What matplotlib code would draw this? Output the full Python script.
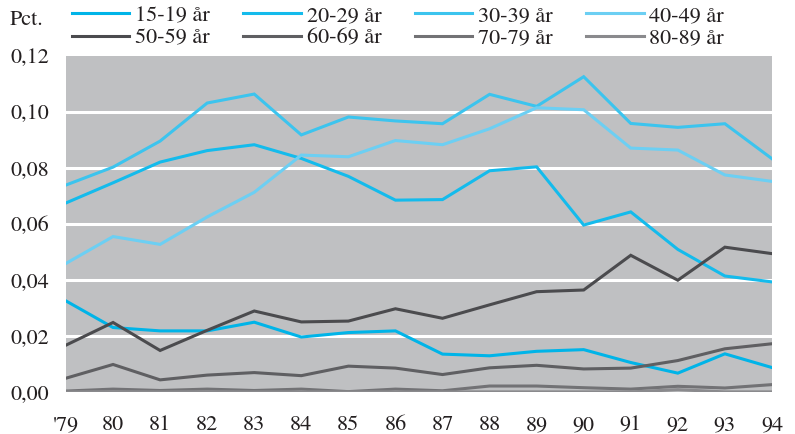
import matplotlib
matplotlib.use("Agg")
import matplotlib.pyplot as plt
import numpy as np

# -------------------------
# Dados
# -------------------------

anos = list(range(1979, 1995))
rotulos_x = ["'79", "80", "81", "82", "83", "84", "85", "86", "87",
             "88", "89", "90", "91", "92", "93", "94"]

idade_15_19 = [0.0325, 0.0230, 0.0218, 0.0218, 0.0249, 0.0196, 0.0212, 0.0218,
               0.0135, 0.0129, 0.0145, 0.0151, 0.0105, 0.0067, 0.0136, 0.0087]
idade_20_29 = [0.0675, 0.0747, 0.0821, 0.0862, 0.0883, 0.0834, 0.0770, 0.0685,
               0.0687, 0.0790, 0.0804, 0.0596, 0.0643, 0.0509, 0.0414, 0.0393]
idade_30_39 = [0.0739, 0.0803, 0.0896, 0.1032, 0.1064, 0.0918, 0.0982, 0.0968,
               0.0958, 0.1063, 0.1020, 0.1126, 0.0959, 0.0945, 0.0958, 0.0833]
idade_40_49 = [0.0459, 0.0555, 0.0527, 0.0625, 0.0713, 0.0846, 0.0840, 0.0898,
               0.0883, 0.0940, 0.1015, 0.1008, 0.0871, 0.0864, 0.0775, 0.0752]
idade_50_59 = [0.0167, 0.0248, 0.0148, 0.0220, 0.0289, 0.0250, 0.0253, 0.0297,
               0.0263, 0.0311, 0.0358, 0.0364, 0.0488, 0.0399, 0.0517, 0.0494]
idade_60_69 = [0.0049, 0.0098, 0.0043, 0.0060, 0.0069, 0.0058, 0.0092, 0.0085,
               0.0062, 0.0086, 0.0095, 0.0082, 0.0085, 0.0112, 0.0154, 0.0172]
idade_70_79 = [0.0003, 0.0010, 0.0005, 0.0010, 0.0005, 0.0010, 0.0001, 0.0010,
               0.0004, 0.0021, 0.0021, 0.0015, 0.0010, 0.0020, 0.0014, 0.0026]
idade_80_89 = [0.0000, 0.0001, 0.0000, 0.0001, 0.0000, 0.0000, 0.0000, 0.0000,
               0.0000, 0.0000, 0.0000, 0.0000, 0.0000, 0.0008, 0.0000, 0.0000]

nomes = ["15-19 år", "20-29 år", "30-39 år", "40-49 år",
         "50-59 år", "60-69 år", "70-79 år", "80-89 år"]
series = [idade_15_19, idade_20_29, idade_30_39, idade_40_49,
          idade_50_59, idade_60_69, idade_70_79, idade_80_89]
cores = ["#00b4e8", "#14bbec", "#3cc4ee", "#6ccff3",
         "#4b4b4e", "#5f5f62", "#727275", "#8a8a8d"]

# -------------------------
# Figura
# -------------------------

plt.rcParams["font.family"] = ["TeX Gyre Termes", "STIXGeneral", "DejaVu Serif"]

fig = plt.figure(figsize=(7.95, 4.34), dpi=100)
ax = fig.add_axes([0.083, 0.097, 0.888, 0.774])
ax.set_facecolor("#bfc0c2")

linhas = []
for nome, valores, cor in zip(nomes, series, cores):
    l, = ax.plot(anos, valores, color=cor, lw=2.2, label=nome,
                 solid_joinstyle="miter", zorder=3)
    linhas.append(l)

ax.set_xlim(1979, 1994)
ax.set_ylim(0, 0.12)
ax.set_yticks(np.arange(0, 0.121, 0.02))
ax.set_yticklabels([f"{v:.2f}".replace(".", ",") for v in np.arange(0, 0.121, 0.02)])
ax.set_xticks(anos)
ax.set_xticklabels(rotulos_x)

for v in np.arange(0.02, 0.11, 0.02):
    ax.axhline(v, color="white", lw=2.2, zorder=1)

for s in ax.spines.values():
    s.set_visible(False)
ax.tick_params(length=0, labelsize=16, colors="#231f20")
ax.tick_params(axis="x", pad=17)
ax.tick_params(axis="y", pad=12)

fig.text(0.012, 0.953, "Pct.", fontsize=16, color="#231f20", va="center")

# legenda em 2 linhas x 4 colunas (ordem por coluna)
ordem = [0, 4, 1, 5, 2, 6, 3, 7]
fig.legend([linhas[i] for i in ordem], [nomes[i] for i in ordem],
           ncol=4, frameon=False, fontsize=16,
           loc="upper left", bbox_to_anchor=(0.065, 1.033),
           handlelength=2.6, handletextpad=0.25, columnspacing=1.5,
           labelspacing=0.08, labelcolor="#231f20")

fig.savefig("out.png", dpi=100)
